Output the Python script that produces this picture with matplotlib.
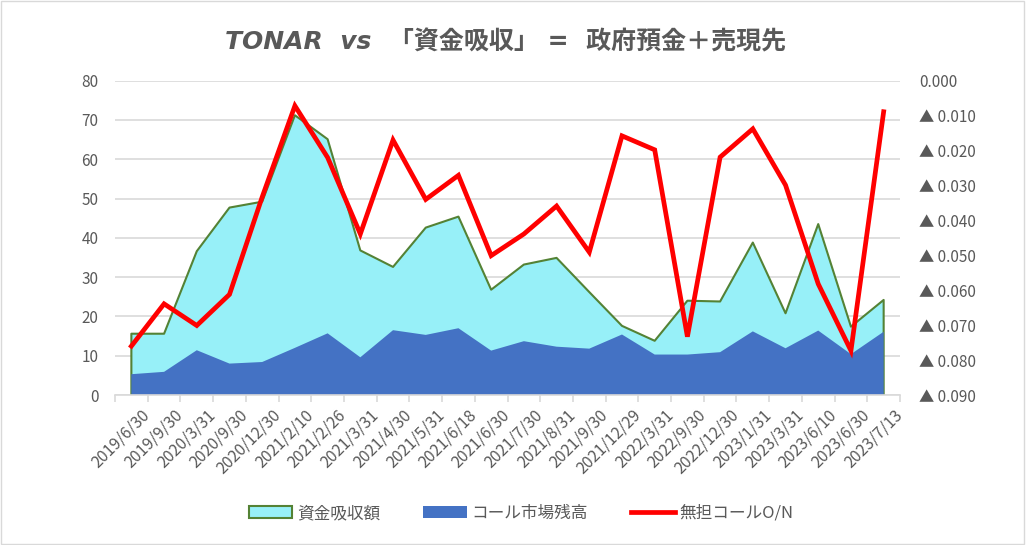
import matplotlib
matplotlib.use("Agg")
import matplotlib.pyplot as plt
from matplotlib.patches import Patch
from matplotlib.lines import Line2D
from matplotlib.ticker import FuncFormatter
import numpy as np

plt.rcParams['font.family'] = ['Noto Sans CJK JP', 'DejaVu Sans']

# data
dates = ['2019/6/30', '2019/9/30', '2020/3/31', '2020/9/30', '2020/12/30',
         '2021/2/10', '2021/2/26', '2021/3/31', '2021/4/30', '2021/5/31',
         '2021/6/18', '2021/6/30', '2021/7/30', '2021/8/31', '2021/9/30',
         '2021/12/29', '2022/3/31', '2022/9/30', '2022/12/30', '2023/1/31',
         '2023/3/31', '2023/6/10', '2023/6/30', '2023/7/13']
absorb = [15.6, 15.6, 36.6, 47.7, 49.2, 71.2, 65.1, 36.8, 32.6, 42.6,
          45.4, 26.8, 33.2, 34.9, 26.2, 17.6, 13.8, 24.0, 23.8, 38.8,
          20.8, 43.5, 17.4, 24.2]
call_bal = [5.3, 5.9, 11.4, 8.0, 8.4, 12.0, 15.7, 9.6, 16.5, 15.3,
            17.0, 11.3, 13.7, 12.3, 11.8, 15.4, 10.3, 10.3, 10.9, 16.2,
            11.9, 16.4, 10.4, 16.1]
tonar = [-0.0760, -0.0639, -0.0701, -0.0612, -0.0333, -0.0072, -0.0220,
         -0.0439, -0.0170, -0.0340, -0.0271, -0.0501, -0.0439, -0.0359,
         -0.0491, -0.0158, -0.0198, -0.0733, -0.0219, -0.0138, -0.0299,
         -0.0582, -0.0773, -0.0089]

grey = '#595959'
x = np.arange(len(dates))

fig = plt.figure(figsize=(10.26, 5.45), dpi=100)
fig.patches.append(plt.Rectangle((0.001, 0.002), 0.997, 0.996, transform=fig.transFigure,
                                 fill=False, edgecolor='#D9D9D9', linewidth=1))
ax = fig.add_axes([0.1121, 0.2752, 0.7651, 0.5768])

ax.fill_between(x, 0, absorb, facecolor='#97F0F8', edgecolor='none', zorder=2)
ax.plot(np.r_[x[0], x, x[-1]], np.r_[0, absorb, 0], color='#548235', lw=1.5, zorder=3)
ax.fill_between(x, 0, call_bal, facecolor='#4472C4', edgecolor='none', zorder=4)

ax.set_xlim(-0.5, len(dates) - 0.5)
ax.set_ylim(0, 80)
ax.set_yticks(range(0, 81, 10))
ax.grid(axis='y', color='#D9D9D9', lw=1.2, zorder=0)
for s in ['left', 'right', 'top']:
    ax.spines[s].set_visible(False)
ax.spines['bottom'].set_color('#D9D9D9')
ax.spines['bottom'].set_linewidth(1.2)
ax.spines['bottom'].set_zorder(5)
ax.tick_params(axis='y', length=0, pad=12, labelcolor=grey, labelsize=11)
ax.set_xticks(x + 0.3)
ax.set_xticklabels(dates, rotation=45, ha='right', rotation_mode='anchor',
                   color=grey, fontsize=11.5)
ax.tick_params(axis='x', which='major', length=0, pad=8)
ax.set_xticks(np.arange(-0.5, len(dates)), minor=True)
ax.tick_params(axis='x', which='minor', length=5, color='#D9D9D9', width=1.2)

ax2 = ax.twinx()
ax2.plot(x, tonar, color='#FF0000', lw=3.4, solid_joinstyle='miter', zorder=6)
ax2.set_ylim(-0.09, 0)
ax2.set_yticks(np.linspace(-0.09, 0, 10))
ax2.yaxis.set_major_formatter(FuncFormatter(
    lambda v, p: '0.000' if abs(v) < 1e-9 else '▲ {:.3f}'.format(abs(v))))
ax2.tick_params(axis='y', length=0, pad=14, labelcolor=grey, labelsize=11)
for s in ax2.spines.values():
    s.set_visible(False)

fig.text(0.493, 0.923, 'TONAR  vs  「資金吸収」 =  政府預金＋売現先', ha='center', va='center',
         fontsize=18, fontweight='bold', fontstyle='italic', color=grey,
         family=['DejaVu Sans', 'Noto Sans CJK JP'])

handles = [Patch(facecolor='#97F0F8', edgecolor='#548235', linewidth=1.5),
           Patch(facecolor='#4472C4', edgecolor='none'),
           Line2D([0], [0], color='#FF0000', lw=3.4)]
fig.legend(handles, ['資金吸収額', 'コール市場残高', '無担コールO/N'],
           loc='center', bbox_to_anchor=(0.508, 0.058), ncol=3, frameon=False,
           fontsize=12, labelcolor=grey, handlelength=2.6, handletextpad=0.3,
           columnspacing=2.6)

fig.savefig('out.png', dpi=100)
